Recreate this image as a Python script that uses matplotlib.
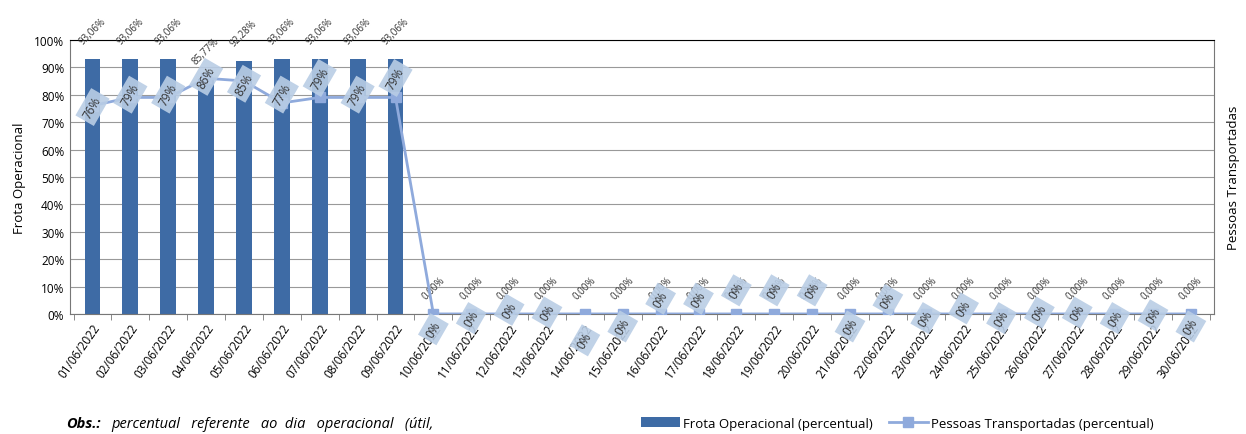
import matplotlib.pyplot as plt
import numpy as np

plt.rcParams['font.family'] = ['Open Sans', 'DejaVu Sans']

# dias de junho/2022
dates = ['%02d/06/2022' % d for d in range(1, 31)]

# Frota Operacional (percentual)
frota = [93.06, 93.06, 93.06, 85.77, 92.28, 93.06, 93.06, 93.06, 93.06] + [0.0] * 21

# Pessoas Transportadas (percentual)
pessoas = [76, 79, 79, 86, 85, 77, 79, 79, 79] + [0] * 21

# deslocamento vertical dos rotulos da linha (pontos)
lbl_dy = [1, -2, -2, -1, 2, -6, -14, -2, -14,
          11, 3, -3, -1, 19, 9, -11, -11, -17, -17, -17,
          9, -10, 3, -4, 3, -1, -1, 3, 1, 9]

bar_color = '#3E6BA5'
line_color = '#8FAADC'

fig = plt.figure(figsize=(12.46, 4.35), dpi=100)
ax = fig.add_axes([0.056, 0.276, 0.918, 0.63])
x = np.arange(len(dates))

ax.bar(x, frota, width=0.42, color=bar_color, zorder=2,
       label='Frota Operacional (percentual)')
ax.set_ylim(0, 100)
ax.set_xlim(-0.6, len(dates) - 0.4)
ax.set_yticks(np.arange(0, 101, 10))
ax.set_yticklabels(['%d%%' % v for v in range(0, 101, 10)], fontsize=8.5)
ax.yaxis.grid(True, color='#999999', linewidth=0.8, zorder=0)
ax.set_axisbelow(True)
ax.set_xticks(x)
ax.set_xticklabels(dates, rotation=55, ha='right', rotation_mode='anchor', fontsize=8.5)
ax.tick_params(axis='x', length=0, pad=5)
ax.tick_params(axis='y', length=0, pad=4)
ax.set_xticks(np.arange(-0.5, len(dates), 1), minor=True)
ax.tick_params(axis='x', which='minor', length=4, color='#777777')
for s in ['left', 'bottom', 'right']:
    ax.spines[s].set_color('#777777')
ax.spines['top'].set_color('black')
ax.set_ylabel('Frota Operacional', fontsize=9.5, labelpad=6)

for xi, v in zip(x, frota):
    ax.annotate(('%.2f%%' % v).replace('.', ','), (xi, v), xytext=(0, 9),
                textcoords='offset points', ha='center', va='bottom',
                rotation=45, fontsize=7, color='#333333')

ax2 = ax.twinx()
ax2.set_ylim(0, 100)
ax2.plot(x, pessoas, color=line_color, linewidth=2, marker='s', markersize=7,
         zorder=3, label='Pessoas Transportadas (percentual)')
ax2.set_yticks([])
ax2.set_ylabel('Pessoas Transportadas', fontsize=9.5, labelpad=10)
for s in ax2.spines.values():
    s.set_visible(False)

for xi, v, dy in zip(x, pessoas, lbl_dy):
    ax2.annotate('%d%%' % v, (xi, v), xytext=(0, -dy),
                 textcoords='offset points', ha='center', va='center',
                 rotation=60, fontsize=8.5, color='#333333', zorder=5,
                 bbox=dict(boxstyle='square,pad=0.35', fc='#B9CDE5',
                           ec='none', alpha=0.9))

h1, l1 = ax.get_legend_handles_labels()
h2, l2 = ax2.get_legend_handles_labels()
fig.legend(h1 + h2, l1 + l2, loc='center', bbox_to_anchor=(0.72, 0.025),
           ncol=2, frameon=False, fontsize=9.5, handlelength=3,
           columnspacing=1.2, handletextpad=0.2)

fig.text(0.053, 0.025, 'Obs.:', fontsize=10.5, style='italic',
         weight='bold', va='center')
fig.text(0.089, 0.025, 'percentual   referente   ao  dia   operacional   (útil,',
         fontsize=10.5, style='italic', va='center')

plt.savefig('out.png', dpi=100)
